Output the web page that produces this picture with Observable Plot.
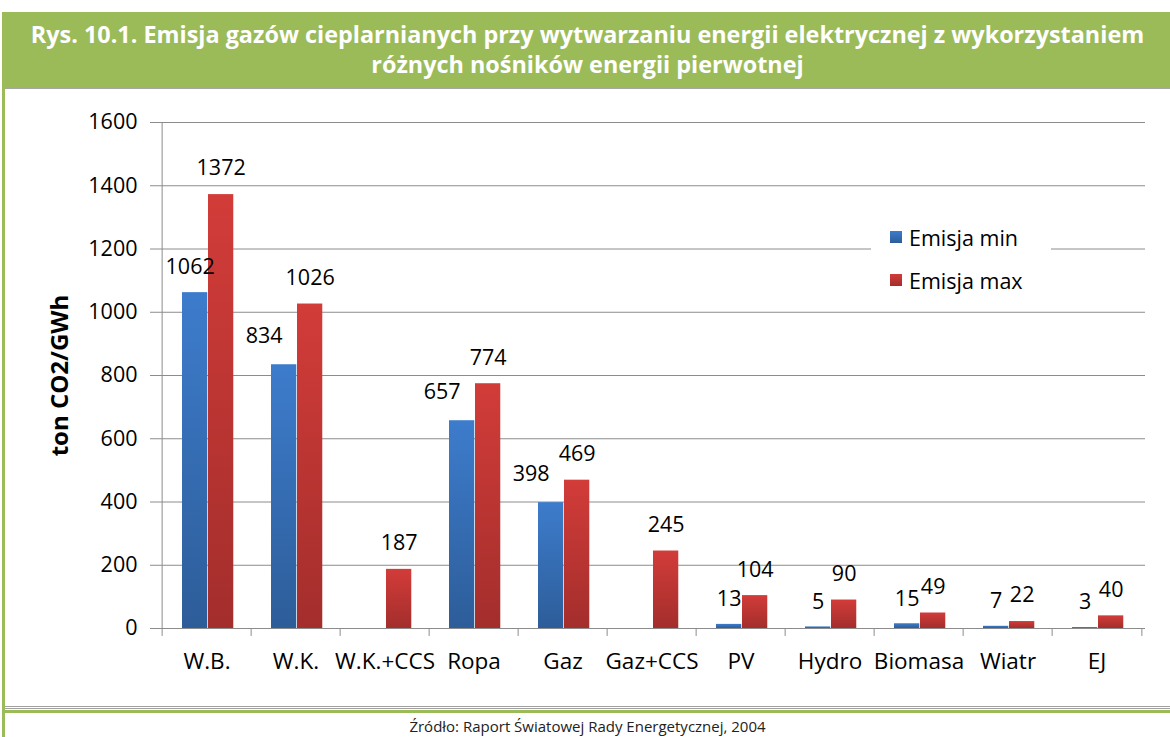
<!DOCTYPE html>
<html><head><meta charset="utf-8">
<script src="https://cdn.jsdelivr.net/npm/d3@7"></script>
<script src="https://cdn.jsdelivr.net/npm/@observablehq/plot@0.6"></script>
<style>
body{margin:0;background:#fff;font-family:"Open Sans",sans-serif;}
#wrap{position:absolute;left:2px;top:12px;width:1165px;height:725px;border-left:3px solid #9bbb59;overflow:hidden}
#title{height:76px;background:#9bbb59;color:#fff;font-weight:bold;font-size:23.4px;text-align:center;line-height:30px;padding-top:7px;box-sizing:border-box;white-space:nowrap}
#chart{position:relative;height:617px;border-top:1px solid #a6a6a6;border-bottom:3px double #a0a0a0}
#chart svg{display:block}
#gl{height:3px;background:#9bbb59;margin-top:1px}
#caption{text-align:center;font-size:15px;color:#222;line-height:20px;margin-top:3px}
#legend{position:absolute;left:866px;top:131px;width:180px;height:76px;background:#fff;font-size:21.5px;color:#000}
.li{position:absolute;left:19px;display:flex;align-items:center;height:30px}
.sw{width:12px;height:12px;margin-right:7px}
</style></head>
<body>
<div id="wrap">
  <div id="title"></div>
  <div id="chart"><div id="legend"></div></div>
  <div id="gl"></div>
  <div id="caption"></div>
</div>
<script>
const titleLines = ["Rys. 10.1. Emisja gazów cieplarnianych przy wytwarzaniu energii elektrycznej z wykorzystaniem", "różnych nośników energii pierwotnej"];
const captionText = "Źródło: Raport Światowej Rady Energetycznej, 2004";
const yLabel = "ton CO2/GWh";
const categories = ["W.B.","W.K.","W.K.+CCS","Ropa","Gaz","Gaz+CCS","PV","Hydro","Biomasa","Wiatr","EJ"];
const emisjaMin = [1062, 834, null, 657, 398, null, 13, 5, 15, 7, 3];
const emisjaMax = [1372, 1026, 187, 774, 469, 245, 104, 90, 49, 22, 40];
const seriesNames = ["Emisja min", "Emisja max"];
const yTicks = [0, 200, 400, 600, 800, 1000, 1200, 1400, 1600];

document.getElementById("title").innerHTML = titleLines.map(t => `<div>${t}</div>`).join("");
document.getElementById("caption").textContent = captionText;

const minData = categories.map((c, i) => ({cat: c, v: emisjaMin[i]})).filter(d => d.v != null);
const maxData = categories.map((c, i) => ({cat: c, v: emisjaMax[i]}));

const band = (1170 - 5 - 153 - 25) / categories.length;
const half = band / 2;
const blueC = 20 + 13 - half;   // blue bar centre offset from band centre
const redC = 46 + 13 - half;    // red bar centre offset from band centre
const font = {fontSize: 21.5, fontFamily: "Open Sans", fill: "#000"};
const grey = "#8c8c8c";

const defs = () => {
  const svg = d3.create("svg:defs");
  const g1 = svg.append("linearGradient").attr("id", "gB").attr("x1", 0).attr("y1", 0).attr("x2", 0).attr("y2", 1);
  g1.append("stop").attr("offset", "0%").attr("stop-color", "#3d7ccc");
  g1.append("stop").attr("offset", "100%").attr("stop-color", "#2d5d99");
  const g2 = svg.append("linearGradient").attr("id", "gR").attr("x1", 0).attr("y1", 0).attr("x2", 0).attr("y2", 1);
  g2.append("stop").attr("offset", "0%").attr("stop-color", "#d23c39");
  g2.append("stop").attr("offset", "100%").attr("stop-color", "#a32e2c");
  return svg.node();
};

const plot = Plot.plot({
  width: 1165,
  height: 617,
  marginLeft: 153,
  marginRight: 25,
  marginTop: 33,
  marginBottom: 78,
  style: {fontFamily: "Open Sans", fontSize: "21px", color: "#000", background: "transparent"},
  x: {type: "band", domain: categories, padding: 0},
  y: {domain: [0, 1600], ticks: yTicks},
  marks: [
    defs,
    Plot.gridY(yTicks, {stroke: grey, strokeOpacity: 1}),
    Plot.axisY(yTicks, {tickSize: 8, tickPadding: 13, stroke: grey, fill: "#000", fontSize: 21.5, tickFormat: d3.format("d"), label: null}),
    Plot.axisX({tickSize: 0, tickPadding: 25, fontSize: 22.5, fill: "#000", label: null}),
    Plot.ruleY([0], {stroke: grey}),
    Plot.ruleX([categories[0]], {x: d => d, dx: -half, y1: -25, y2: 1600, stroke: grey}),
    Plot.ruleX(categories.slice(1), {x: d => d, dx: -half, y1: -25, y2: 0, stroke: grey}),
    Plot.ruleX([categories[categories.length - 1]], {x: d => d, dx: half, y1: -25, y2: 0, stroke: grey}),
    Plot.barY(minData, {x: "cat", y: "v", fill: "url(#gB)", insetLeft: 20, insetRight: band - 46}),
    Plot.barY(maxData, {x: "cat", y: "v", fill: "url(#gR)", insetLeft: 46, insetRight: band - 72}),
    Plot.text(minData.filter(d => d.v > 1000), {x: "cat", y: "v", text: d => String(d.v), dx: blueC - 5, dy: -26, ...font}),
    Plot.text(minData.filter(d => d.v > 300 && d.v <= 1000), {x: "cat", y: "v", text: d => String(d.v), dx: blueC - 20, dy: -29, ...font}),
    Plot.text(minData.filter(d => d.v <= 300), {x: "cat", y: "v", text: d => String(d.v), dx: blueC, dy: -25, ...font}),
    Plot.text(maxData, {x: "cat", y: "v", text: d => String(d.v), dx: redC, dy: -26, ...font}),
    Plot.text([yLabel], {frameAnchor: "left", rotate: -90, dx: -98, textAnchor: "middle", fontWeight: "bold", fontSize: 24, fontFamily: "Open Sans", fill: "#000"})
  ]
});
document.getElementById("chart").prepend(plot);

const lg = document.getElementById("legend");
const swColors = ["linear-gradient(#3d7ccc,#2d5d99)", "linear-gradient(#d23c39,#a32e2c)"];
seriesNames.forEach((s, i) => {
  const el = document.createElement("div");
  el.className = "li";
  el.style.top = (i === 0 ? 2 : 45) + "px";
  el.innerHTML = `<span class="sw" style="background:${swColors[i]}"></span><span>${s}</span>`;
  lg.appendChild(el);
});
</script>
</body></html>
